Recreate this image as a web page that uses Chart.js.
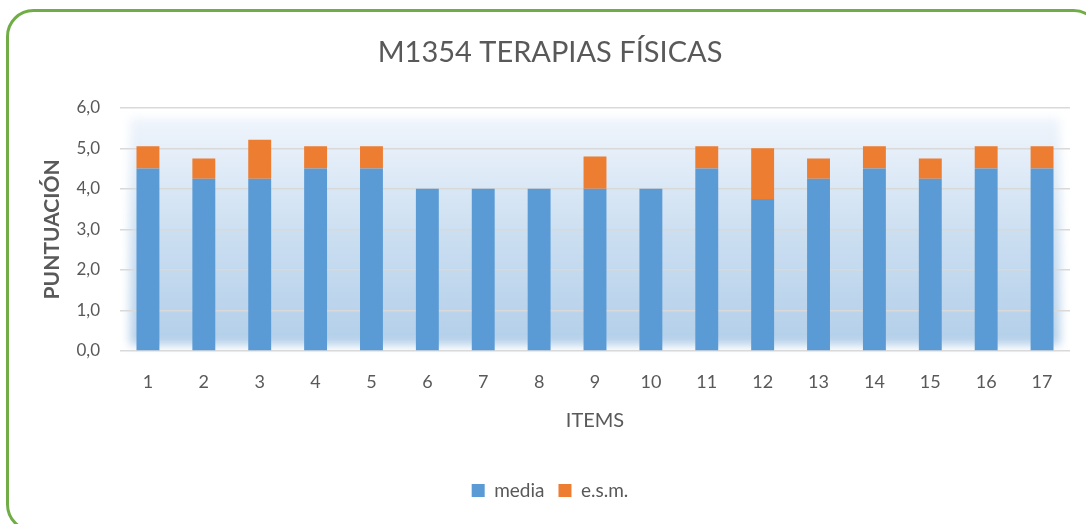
<!DOCTYPE html>
<html>
<head>
<meta charset="utf-8">
<script src="https://cdn.jsdelivr.net/npm/chart.js@4/dist/chart.umd.min.js"></script>
<style>
html,body{margin:0;padding:0;background:#fff;}
#wrap{width:1086px;height:524px;position:relative;}
</style>
</head>
<body>
<div id="wrap"><canvas id="c" width="1086" height="524"></canvas></div>
<script>
const categories = ["1","2","3","4","5","6","7","8","9","10","11","12","13","14","15","16","17"];
const media = [4.5,4.25,4.25,4.5,4.5,4.0,4.0,4.0,4.0,4.0,4.5,3.75,4.25,4.5,4.25,4.5,4.5];
const esm = [0.55,0.5,0.96,0.55,0.55,0,0,0,0.8,0,0.55,1.25,0.5,0.55,0.5,0.55,0.55];
const yTicks = [0,1,2,3,4,5,6];

const FONT = "Lato, 'Open Sans', sans-serif";
const TXT = "#595959";

const bgPlugin = {
  id: 'bgPlugin',
  beforeDraw(chart) {
    const {ctx, chartArea: a} = chart;
    ctx.save();
    ctx.filter = 'blur(5px)';
    const g = ctx.createLinearGradient(0, a.top + 8, 0, a.bottom - 6);
    g.addColorStop(0, '#f0f5fc');
    g.addColorStop(0.55, '#c9ddf0');
    g.addColorStop(1, '#b3cfe9');
    ctx.fillStyle = g;
    ctx.fillRect(a.left + 10, a.top + 10, a.right - a.left - 20, a.bottom - a.top - 16);
    ctx.restore();
  },
  afterDraw(chart) {
    const ctx = chart.ctx;
    ctx.save();
    ctx.strokeStyle = '#70AD47';
    ctx.lineWidth = 3;
    ctx.beginPath();
    ctx.roundRect(7.5, 10.5, 1092, 520, 26);
    ctx.stroke();
    ctx.restore();
  }
};

new Chart(document.getElementById('c'), {
  type: 'bar',
  data: {
    labels: categories,
    datasets: [
      {label: 'media', data: media, backgroundColor: '#5B9BD5', barPercentage: 0.41, categoryPercentage: 1},
      {label: 'e.s.m.', data: esm, backgroundColor: '#ED7D31', barPercentage: 0.41, categoryPercentage: 1}
    ]
  },
  plugins: [bgPlugin],
  options: {
    responsive: false,
    animation: false,
    layout: {padding: {left: 30, right: 16, top: 10, bottom: 14}},
    plugins: {
      tooltip: {enabled: false},
      title: {
        display: true,
        text: 'M1354 TERAPIAS FÍSICAS',
        color: TXT,
        font: {family: FONT, size: 29, weight: 'normal'},
        padding: {top: 25, bottom: 38}
      },
      legend: {
        position: 'bottom',
        labels: {
          color: TXT,
          font: {family: FONT, size: 19},
          boxWidth: 13, boxHeight: 13,
          padding: 14
        }
      }
    },
    scales: {
      x: {
        stacked: true,
        grid: {display: false, drawTicks: false},
        border: {display: false},
        ticks: {color: TXT, font: {family: FONT, size: 18}, padding: 20, maxRotation: 0},
        title: {display: true, text: 'ITEMS', color: TXT, font: {family: FONT, size: 20}, padding: {top: 0, bottom: 34}},
        afterFit(s) { s.height = 116; }
      },
      y: {
        stacked: true,
        min: 0, max: 6,
        afterBuildTicks(s) { s.ticks = yTicks.map(v => ({value: v})); },
        grid: {color: '#d9d9d9', lineWidth: 1.5, drawTicks: false},
        border: {display: false},
        ticks: {color: TXT, font: {family: FONT, size: 17}, padding: 20,
          callback: v => v.toFixed(1).replace('.', ',')},
        title: {display: true, text: 'PUNTUACIÓN', color: TXT, font: {family: FONT, size: 21, weight: 'bold'}, padding: {top: 10, bottom: 0}},
        afterFit(s) { s.width = 90; }
      }
    }
  }
});
</script>
</body>
</html>
